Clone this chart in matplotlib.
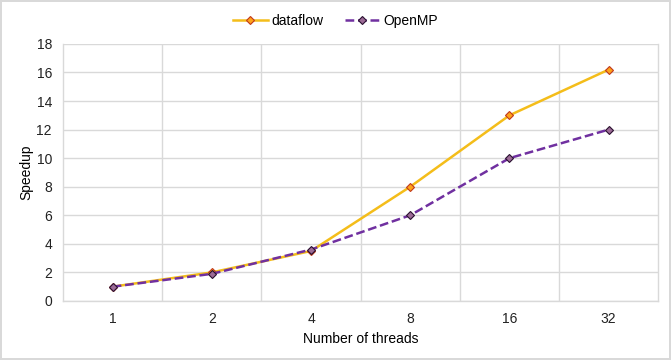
import numpy as np
import matplotlib
matplotlib.use('Agg')
import matplotlib.pyplot as plt

plt.rcParams['font.family'] = ['Liberation Sans', 'DejaVu Sans']

threads = ['1', '2', '4', '8', '16', '32']
dataflow = [1.0, 2.0, 3.5, 8.0, 13.0, 16.2]
openmp = [1.0, 1.9, 3.6, 6.0, 10.0, 12.0]

fig = plt.figure(figsize=(6.71, 3.6), dpi=100)
fig.patch.set_edgecolor('#d9d9d9')
fig.patch.set_linewidth(1.5)
ax = fig.add_axes([0.094, 0.164, 0.887, 0.714])

xs = np.arange(len(threads))
ax.plot(xs, dataflow, color='#f4bd1a', lw=1.8, marker='D', ms=4.5,
        mfc='#ffa21a', mec='#c0391b', mew=0.8, label='dataflow', zorder=3)
ax.plot(xs, openmp, color='#7030a0', lw=1.8, ls=(0, (3.5, 1.5)), marker='D', ms=4.5,
        mfc='#9c6b96', mec='#2a1030', mew=0.8, label='OpenMP', zorder=4)

ax.set_xlim(-0.5, len(threads) - 0.5)
ax.set_ylim(0, 18)
ax.set_yticks(range(0, 19, 2))
ax.set_xticks(xs)
ax.set_xticklabels(threads)
ax.set_xticks(np.arange(0.5, len(threads) - 0.5), minor=True)
ax.grid(True, axis='y', color='#d9d9d9', lw=1)
ax.grid(True, axis='x', which='minor', color='#d9d9d9', lw=1)
ax.tick_params(which='both', length=0, labelsize=10, colors='#222222')
ax.tick_params(axis='x', pad=8)
ax.tick_params(axis='y', pad=8)
ax.spines['top'].set_visible(False)
for side in ['bottom', 'left', 'right']:
    ax.spines[side].set_color('#d9d9d9')
    ax.spines[side].set_linewidth(1)
ax.set_axisbelow(True)

ax.set_xlabel('Number of threads', fontsize=10, labelpad=4)
ax.set_ylabel('Speedup', fontsize=10, labelpad=2)

fig.legend(loc='upper center', bbox_to_anchor=(0.5, 0.995), ncol=2, frameon=False,
           fontsize=10, handlelength=2.5, columnspacing=1.5, handletextpad=0.3)

fig.savefig('out.png', dpi=100)
